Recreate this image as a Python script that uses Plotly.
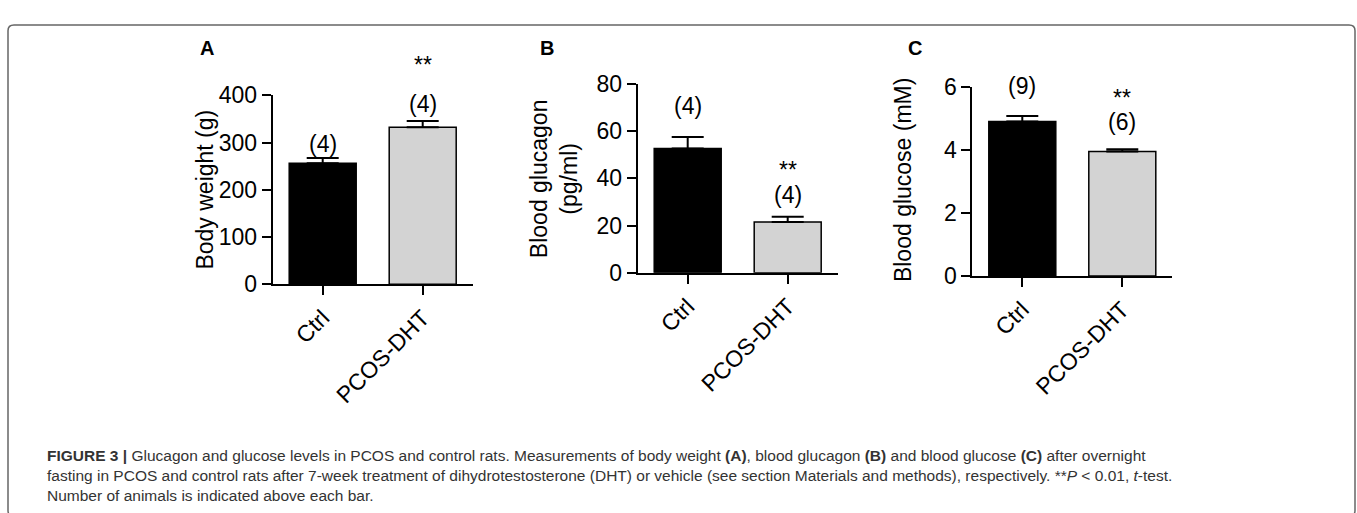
import plotly.graph_objects as go

W, H = 1357, 513

# ---------------- data ----------------
categories = ["Ctrl", "PCOS-DHT"]
body_weight = [256, 332.5]
body_weight_sem = [11, 13]
glucagon = [52.7, 21.5]
glucagon_sem = [4.8, 2.2]
glucose = [4.91, 3.96]
glucose_sem = [0.18, 0.07]
n_body = ["(4)", "(4)"]
n_glucagon = ["(4)", "(4)"]
n_glucose = ["(9)", "(6)"]
sig_body = ["", "**"]
sig_glucagon = ["", "**"]
sig_glucose = ["", "**"]
ticks_body = [0, 100, 200, 300, 400]
ticks_glucagon = [0, 20, 40, 60, 80]
ticks_glucose = [0, 2, 4, 6]
titles = ["Body weight (g)", "Blood glucagon<br>(pg/ml)", "Blood glucose (mM)"]
letters = ["A", "B", "C"]
bar_colors = ["#000000", "#d3d3d3"]


def px(x):
    return x / W


def py(y):
    return 1 - y / H


FONT = "Liberation Sans, Arial, Helvetica, sans-serif"

panels = [
    dict(vals=body_weight, sem=body_weight_sem, n=n_body, sig=sig_body, ticks=ticks_body,
         x0=272.7, x1=472.7, y0=285.7, y1=86.7,
         nshift=[14, 17], sshift=56, title_xy=(205, 186), letter_xy=(207, 37)),
    dict(vals=glucagon, sem=glucagon_sem, n=n_glucagon, sig=sig_glucagon, ticks=ticks_glucagon,
         x0=637.7, x1=837.7, y0=273.7, y1=74.7,
         nshift=[31, 22], sshift=47, title_xy=(554, 175), letter_xy=(547, 37)),
    dict(vals=glucose, sem=glucose_sem, n=n_glucose, sig=sig_glucose, ticks=ticks_glucose,
         x0=972.3, x1=1172.3, y0=277.0, y1=78.3,
         nshift=[30, 27], sshift=51, title_xy=(903, 176), letter_xy=(915, 37)),
]

fig = go.Figure()
annotations = []

for i, p in enumerate(panels):
    xa = "x" if i == 0 else f"x{i+1}"
    ya = "y" if i == 0 else f"y{i+1}"
    fig.add_trace(go.Bar(
        x=categories, y=p["vals"], xaxis=xa, yaxis=ya, width=0.67,
        marker=dict(color=bar_colors, line=dict(color="black", width=1.5)),
        error_y=dict(type="data", array=p["sem"], arrayminus=[0, 0], symmetric=False,
                     color="black", thickness=2, width=16),
        showlegend=False, hoverinfo="skip",
    ))
    axkey = "xaxis" if i == 0 else f"xaxis{i+1}"
    aykey = "yaxis" if i == 0 else f"yaxis{i+1}"
    top = p["ticks"][-1]
    fig.update_layout(**{
        axkey: dict(domain=[px(p["x0"]), px(p["x1"])], anchor=ya, range=[-0.5, 1.5],
                    showline=True, linecolor="black", linewidth=2,
                    ticks="outside", ticklen=9, tickwidth=2, tickcolor="black",
                    tickangle=-45, tickfont=dict(family=FONT, size=23, color="black"),
                    showgrid=False, zeroline=False, fixedrange=True),
        aykey: dict(domain=[py(p["y0"]), py(p["y1"])], anchor=xa, range=[0, top],
                    tickvals=p["ticks"], showline=True, linecolor="black", linewidth=2,
                    ticks="outside", ticklen=9, tickwidth=2, tickcolor="black",
                    tickfont=dict(family=FONT, size=23, color="black"),
                    showgrid=False, zeroline=False, fixedrange=True),
    })
    for j, c in enumerate(categories):
        ytop = p["vals"][j] + p["sem"][j]
        annotations.append(dict(x=c, y=ytop, xref=xa, yref=ya, text=p["n"][j],
                                showarrow=False, yanchor="middle", yshift=p["nshift"][j],
                                font=dict(family=FONT, size=23, color="black")))
        if p["sig"][j]:
            annotations.append(dict(x=c, y=ytop, xref=xa, yref=ya, text=p["sig"][j],
                                    showarrow=False, yanchor="middle", yshift=p["sshift"],
                                    font=dict(family=FONT, size=23, color="black")))
    tx, ty = p["title_xy"]
    annotations.append(dict(x=px(tx), y=py(ty), xref="paper", yref="paper", text=titles[i],
                            textangle=-90, showarrow=False, xanchor="center", yanchor="middle",
                            font=dict(family=FONT, size=23, color="black")))
    lx, ly = p["letter_xy"]
    annotations.append(dict(x=px(lx), y=py(ly), xref="paper", yref="paper",
                            text=f"<b>{letters[i]}</b>", showarrow=False,
                            xanchor="center", yanchor="middle",
                            font=dict(family=FONT, size=20, color="black")))

caption = ("<b>FIGURE 3 |</b> Glucagon and glucose levels in PCOS and control rats. Measurements of body weight "
           "<b>(A)</b>, blood glucagon <b>(B)</b> and blood glucose <b>(C)</b> after overnight<br>"
           "fasting in PCOS and control rats after 7-week treatment of dihydrotestosterone (DHT) or vehicle "
           "(see section Materials and methods), respectively. **<i>P</i> &lt; 0.01, <i>t</i>-test.<br>"
           "Number of animals is indicated above each bar.")
annotations.append(dict(x=px(45), y=py(487), xref="paper", yref="paper", text=caption,
                        showarrow=False, xanchor="left", yanchor="middle", align="left",
                        font=dict(family=FONT, size=15.5, color="#333333")))

# rounded frame (bottom edge lies below the visible page)
l, t, r, b, rad = px(8), py(12.7), px(1355), py(530), 6
rx, ry = rad / W, rad / H
path = (f"M {l+rx},{t} L {r-rx},{t} Q {r},{t} {r},{t-ry} L {r},{b+ry} Q {r},{b} {r-rx},{b} "
        f"L {l+rx},{b} Q {l},{b} {l},{b+ry} L {l},{t-ry} Q {l},{t} {l+rx},{t} Z")

fig.update_layout(
    width=W, height=H, autosize=False,
    margin=dict(l=0, r=0, t=0, b=0),
    paper_bgcolor="white", plot_bgcolor="white",
    annotations=annotations,
    shapes=[dict(type="path", xref="paper", yref="paper", path=path,
                 line=dict(color="#666666", width=1.5), fillcolor="rgba(0,0,0,0)", layer="below")],
    font=dict(family=FONT),
)

fig.write_html("out.html", config={"displayModeBar": False},
               post_script="document.body.style.margin='0';document.body.style.overflow='hidden';")
